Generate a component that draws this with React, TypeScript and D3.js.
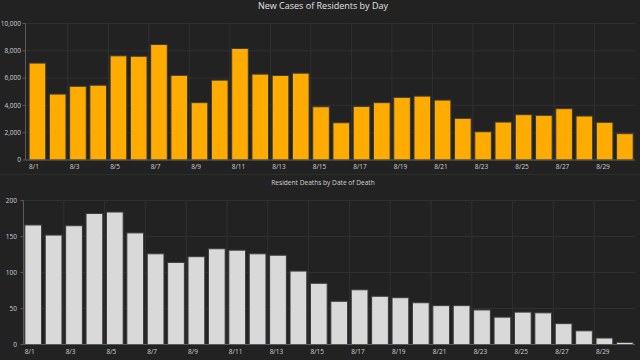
import React from "react";
import * as d3 from "d3";

const days = d3.range(1, 31).map((d) => `8/${d}`);

const newCases = [
    7100, 4830, 5400, 5480, 7630, 7600, 8460, 6200, 4200, 5850,
    8170, 6290, 6190, 6360, 3900, 2730, 3920, 4200, 4590, 4680,
    4390, 3050, 2070, 2780, 3320, 3270, 3760, 3220, 2760, 1930,
];

const deaths = [
    166, 152, 165, 182, 184, 155, 126, 114, 122, 133,
    131, 126, 124, 102, 85, 60, 76, 67, 65, 58,
    54, 54, 48, 38, 45, 44, 29, 19, 9, 3,
];

const caseTicks = [0, 2000, 4000, 6000, 8000, 10000];
const deathTicks = [0, 50, 100, 150, 200];

const W = 640;
const H = 360;
const BG = "#222222";
const FONT = "'Open Sans', 'Noto Sans', sans-serif";

interface PanelProps {
    title: string;
    titleY: number;
    titleSize: number;
    titleColor: string;
    values: number[];
    ticks: number[];
    yMax: number;
    top: number;
    bottom: number;
    left: number;
    axisX: number;
    labelX: number;
    fill: string;
    fmt: (v: number) => string;
}

const Panel = ({title, titleY, titleSize, titleColor, values, ticks, yMax, top, bottom, left, axisX, labelX, fill, fmt}: PanelProps) => {
    const x = d3.scaleBand<string>()
        .domain(days)
        .range([left, 635])
        .paddingInner(0.18)
        .paddingOuter(0.09);

    const y = d3.scaleLinear().domain([0, yMax]).range([bottom, top]);
    const gap = (x.step() - x.bandwidth()) / 2;

    return (
        <g>
            <text x={323} y={titleY} textAnchor="middle" fill={titleColor}
                  fontSize={titleSize} fontFamily={FONT}>{title}</text>

            {/* grid */}
            {ticks.map((t) => (
                <line key={"h" + t} x1={axisX} x2={635} y1={y(t)} y2={y(t)} stroke="#303030" strokeWidth={1}/>
            ))}
            {days.filter((d, i) => i % 2 === 0 && i > 0).map((d) => (
                <line key={"v" + d} x1={x(d)! - gap} x2={x(d)! - gap} y1={top} y2={bottom}
                      stroke="#303030" strokeWidth={1}/>
            ))}

            {/* bars */}
            {values.map((v, i) => (
                <rect key={i} x={x(days[i])} y={y(v)} width={x.bandwidth()} height={bottom - y(v)}
                      fill={fill} stroke="#3c3c3c" strokeWidth={1}/>
            ))}

            {/* axes */}
            <line x1={axisX} x2={axisX} y1={top} y2={bottom} stroke="#5a5a5a"/>
            <line x1={axisX} x2={635} y1={bottom} y2={bottom} stroke="#5a5a5a"/>
            {ticks.map((t) => (
                <g key={"t" + t}>
                    <line x1={axisX - 3} x2={axisX} y1={y(t)} y2={y(t)} stroke="#5a5a5a"/>
                    <text x={labelX} y={y(t)} dy="0.35em" textAnchor="end" fill="#cfcfcf"
                          fontSize={6.5} fontFamily={FONT}>{fmt(t)}</text>
                </g>
            ))}
            {days.filter((d, i) => i % 2 === 0).map((d) => (
                <text key={"x" + d} x={x(d)} y={bottom + 9} fill="#cfcfcf"
                      fontSize={6.5} fontFamily={FONT}>{d}</text>
            ))}
        </g>
    );
};

export default function App() {
    return (
        <div style={{position: "fixed", left: 0, top: 0, width: W, height: H, background: BG}}>
            <svg width={W} height={H} style={{display: "block"}}>
                <rect width={W} height={H} fill={BG}/>
                <Panel title="New Cases of Residents by Day" titleY={9} titleSize={9} titleColor="#e2e2e2"
                       values={newCases} ticks={caseTicks} yMax={10000}
                       top={23.5} bottom={160} left={27.3} axisX={25.5} labelX={21}
                       fill="#ffab00" fmt={d3.format(",")}/>
                <line x1={0} x2={W} y1={174.5} y2={174.5} stroke="#2e2e2e"/>
                <Panel title="Resident Deaths by Date of Death" titleY={185} titleSize={6.6} titleColor="#d0d0d0"
                       values={deaths} ticks={deathTicks} yMax={200}
                       top={200.5} bottom={344.5} left={23} axisX={23.5} labelX={17}
                       fill="#d9d9d9" fmt={d3.format("d")}/>
            </svg>
        </div>
    );
}
